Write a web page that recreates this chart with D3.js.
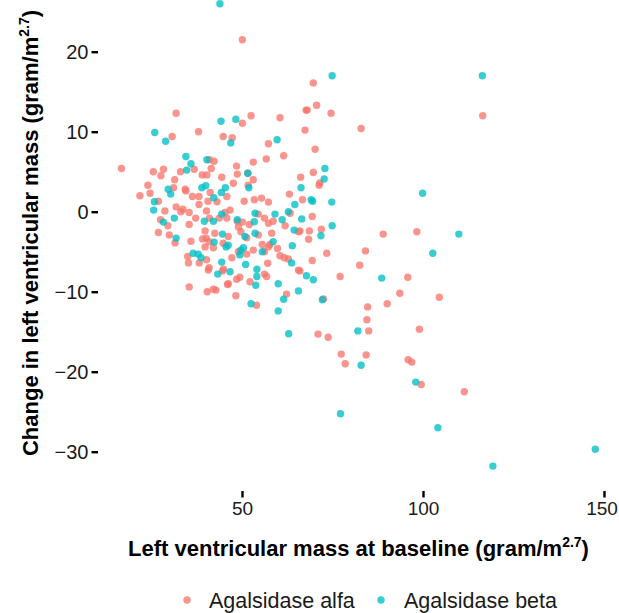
<!DOCTYPE html>
<html>
<head>
<meta charset="utf-8">
<script src="https://cdn.jsdelivr.net/npm/d3@7"></script>
<style>
  body { margin: 0; background: #fff; }
  text { font-family: "Liberation Sans", Arial, Helvetica, sans-serif; }
</style>
</head>
<body>
<svg id="chart" width="619" height="613"></svg>
<script>
// ---- Data ----
const groups = ["Agalsidase alfa", "Agalsidase beta"];
const groupColors = ["#F8766D", "#00BFC4"];

// Agalsidase alfa: baseline LV mass (x) and change (y)
const alfaX = [16.7,21.8,24.0,24.6,26.9,25.5,28.3,27.6,31.4,31.1,31.8,30.7,38.0,44.8,33.0,36.8,41.0,42.3,41.5,39.0,
  40.3,44.4,34.3,34.5,36.3,38.1,38.1,41.2,40.6,43.1,28.7,31.8,33.7,33.1,35.4,37.2,40.2,27.5,29.5,26.9,
  29.9,31.5,35.4,39.8,41.0,43.7,45.3,45.8,42.5,40.1,39.1,40.9,35.9,39.8,42.1,44.8,35.0,35.2,38.2,40.2,
  40.9,44.9,50.1,69.7,67.7,68.0,70.6,74.6,67.4,60.5,52.5,50.1,47.3,57.3,70.2,61.5,56.7,53.1,48.5,48.7,
  51.6,53.1,51.7,66.2,69.7,71.5,82.9,116.5,66.7,69.4,66.0,68.6,71.9,68.4,89.0,98.3,73.4,84.1,69.4,82.5,
  66.0,77.1,95.8,72.5,93.6,104.5,90.1,84.7,84.5,85.0,99.0,71.0,73.8,77.4,84.3,78.5,95.9,96.9,99.5,111.4,
  45.8,50.6,53.4,55.4,57.3,63.1,71.3,46.7,54.5,63.3,48.7,50.1,52.0,56.2,57.3,58.6,61.9,49.0,49.7,51.3,
  54.5,58.2,65.6,46.2,47.2,49.0,51.3,53.1,56.2,55.6,57.3,57.7,59.8,60.5,61.7,62.8,65.6,57.1,56.2,49.4,
  48.5,46.2,52.2,56.8,48.3,62.3,54.0,35.4,40.4,42.1,42.8,46.0,44.6,40.7,47.6];
const alfaY = [5.4,2.0,3.3,2.3,1.3,5.0,5.3,4.5,4.0,3.0,12.3,9.4,10.0,9.4,5.0,5.3,6.5,6.3,5.4,4.6,
  4.6,4.3,2.8,2.6,1.9,1.9,0.9,2.4,1.3,1.25,0.1,0.6,0.3,0.0,-0.1,-0.8,0.1,-1.0,-1.75,-2.6,
  -2.9,-3.9,-1.6,-2.4,-0.8,-0.8,-0.1,-0.8,-2.7,-3.3,-3.4,-3.75,-3.7,-4.4,-4.5,-3.95,-5.6,-6.4,-6.4,-6.0,
  -7.0,-7.2,21.5,16.1,12.7,12.7,13.3,12.3,10.2,11.75,12.0,11.05,9.25,8.5,7.8,7.0,6.6,6.2,5.7,4.7,
  4.8,4.0,3.3,4.3,4.9,3.6,10.4,12.0,1.5,-0.6,-2.4,-2.4,-2.2,-3.45,-2.8,-2.5,-5.2,-4.9,-6.1,-6.7,
  -7.4,-8.1,-8.2,-10.9,-10.2,-10.7,-11.5,-11.9,-13.5,-14.9,-14.7,-15.3,-15.7,-17.8,-17.9,-19.0,-18.5,-18.8,-21.6,-22.5,
  1.9,1.3,1.5,1.7,1.2,2.2,3.3,0.2,-0.3,-0.2,-1.2,-1.3,-1.6,-0.8,-1.45,-1.2,-1.75,-1.9,-2.5,-3.25,
  -2.9,-2.7,-2.5,-3.1,-5.75,-5.0,-5.3,-4.8,-5.0,-4.1,-4.4,-4.1,-4.6,-5.5,-5.75,-5.9,-7.3,-6.45,-7.8,-8.2,
  -8.45,-9.0,-8.75,-8.1,-10.5,-10.3,-11.7,-9.4,-10.0,-9.7,-9.8,-9.1,-7.4,-7.3,3.55];

// Agalsidase beta
const betaX = [43.9,44.2,48.3,25.9,28.9,46.9,59.7,34.5,35.9,34.7,40.3,29.6,38.9,40.0,45.4,25.8,25.6,30.3,42.2,44.3,
  31.3,28.3,31.8,39.6,42.1,44.4,44.6,42.3,45.6,36.5,37.9,38.7,44.4,43.3,46.7,51.9,66.3,69.1,69.5,74.8,
  64.6,53.6,59.1,62.8,66.5,53.4,61.1,50.8,53.6,64.4,74.9,71.8,46.2,49.7,50.4,49.4,55.6,58.6,63.7,63.9,
  51.0,54.1,67.8,69.7,54.1,53.8,60.0,61.5,65.6,72.2,52.5,60.0,62.9,74.9,116.4,72.9,72.7,99.9,109.9,102.7,
  88.6,82.0,82.9,98.0,77.2,104.1,147.6,119.3,51.6,48.7];
const betaY = [26.0,11.3,11.55,9.9,8.8,8.6,9.0,6.9,6.0,5.2,6.5,2.8,3.0,3.25,3.0,1.25,0.2,2.2,1.75,2.4,
  -0.8,-1.3,-3.3,-1.2,-1.2,-0.3,-2.8,-3.8,-4.4,-5.2,-5.3,-5.75,-6.3,-7.8,-7.5,3.0,3.0,1.5,1.3,1.2,
  0.9,-0.2,-0.3,0.0,-0.9,-1.25,-1.0,-3.1,-2.7,-2.3,-1.75,-3.0,-4.2,-4.8,-4.5,-5.4,-5.0,-3.75,-6.4,-4.25,
  -6.6,-7.2,-8.0,-8.5,-8.1,-9.2,-9.0,-10.95,-9.9,-11.0,-11.5,-12.4,-15.25,17.0,17.0,5.4,4.1,2.3,-2.8,-5.2,
  -8.3,-14.9,-19.2,-21.3,-25.25,-27.0,-29.7,-31.8,4.8,-1.0];

const xTicks = [50, 100, 150];
const yTicks = [-30, -20, -10, 0, 10, 20];

// ---- Chart ----
const svg = d3.select("#chart");
const panel = { left: 98, right: 619, top: 0, bottom: 491 };

const x = d3.scaleLinear().domain([50, 150]).range([242, 604]);
const y = d3.scaleLinear().domain([-30, 20]).range([451.7, 51.7]);
const color = d3.scaleOrdinal().domain(groups).range(groupColors);

const points = [];
alfaX.forEach((v, i) => points.push({ g: groups[0], x: v, y: alfaY[i] }));
betaX.forEach((v, i) => points.push({ g: groups[1], x: v, y: betaY[i] }));

svg.append("g")
  .selectAll("circle")
  .data(points)
  .join("circle")
  .attr("cx", d => x(d.x))
  .attr("cy", d => y(d.y))
  .attr("r", 3.7)
  .attr("fill", d => color(d.g))
  .attr("fill-opacity", 0.78);

// Y axis
const yAxis = svg.append("g")
  .attr("transform", `translate(${panel.left},0)`)
  .call(d3.axisLeft(y).tickValues(yTicks).tickSize(6.5).tickPadding(3)
    .tickFormat(d => d < 0 ? "\u2212" + Math.abs(d) : d));
yAxis.select(".domain").remove();
yAxis.selectAll(".tick line").attr("stroke", "#000").attr("stroke-width", 2.4);
yAxis.selectAll(".tick text").attr("fill", "#1a1a1a").style("font-size", "20px");

// X axis
const xAxis = svg.append("g")
  .attr("transform", `translate(0,${panel.bottom})`)
  .call(d3.axisBottom(x).tickValues(xTicks).tickSize(6.5).tickPadding(4));
xAxis.select(".domain").remove();
xAxis.selectAll(".tick line").attr("stroke", "#000").attr("stroke-width", 2.4);
xAxis.selectAll(".tick text").attr("fill", "#1a1a1a").style("font-size", "19px")
  .attr("dx", d => d === 150 ? -2.5 : 0);

// Axis titles
const xTitle = svg.append("text")
  .attr("x", (panel.left + panel.right) / 2)
  .attr("y", 556)
  .attr("text-anchor", "middle")
  .style("font-size", "22px")
  .style("font-weight", "bold")
  .attr("fill", "#000");
xTitle.append("tspan").text("Left ventricular mass at baseline (gram/m");
xTitle.append("tspan").attr("dy", -9).style("font-size", "14px").text("2.7");
xTitle.append("tspan").attr("dy", 9).text(")");

const yTitle = svg.append("text")
  .attr("transform", `translate(38,233) rotate(-90)`)
  .attr("text-anchor", "middle")
  .style("font-size", "22px")
  .style("font-weight", "bold")
  .attr("fill", "#000");
yTitle.append("tspan").text("Change in left ventricular mass (gram/m");
yTitle.append("tspan").attr("dy", -9).style("font-size", "14px").text("2.7");
yTitle.append("tspan").attr("dy", 9).text(")");

// Legend
const legend = svg.append("g").attr("transform", "translate(0,600)");
const legendItems = [{ g: groups[0], cx: 187, tx: 209 }, { g: groups[1], cx: 381, tx: 404 }];
legendItems.forEach(it => {
  legend.append("circle").attr("cx", it.cx).attr("cy", 0).attr("r", 3.7)
    .attr("fill", color(it.g)).attr("fill-opacity", 0.78);
  legend.append("text").attr("x", it.tx).attr("y", 7.5)
    .style("font-size", "21.5px").attr("fill", "#1a1a1a").text(it.g);
});
</script>
</body>
</html>
